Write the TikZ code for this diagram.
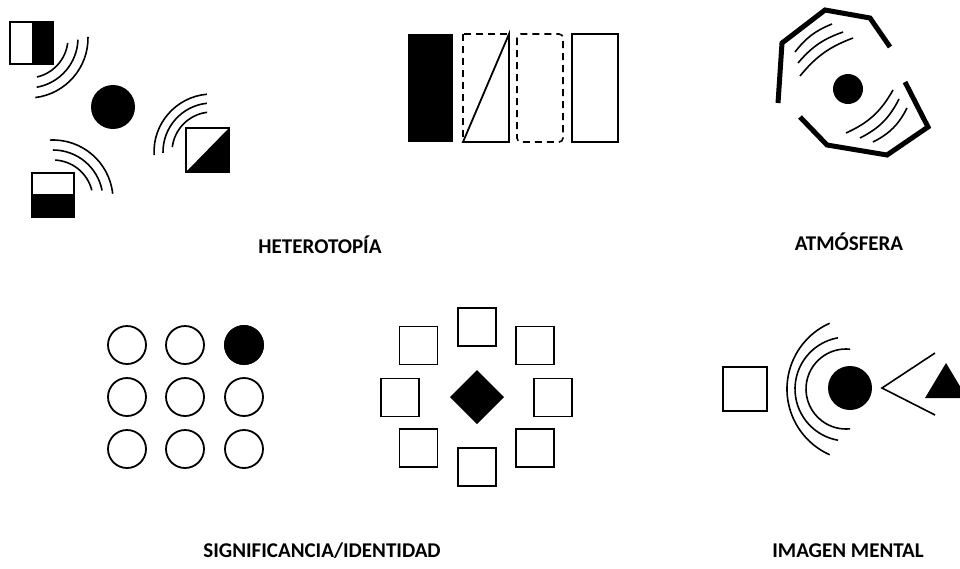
\documentclass[tikz,border=0pt]{standalone}
\usepackage{fontspec}
\setmainfont{Carlito}
\begin{document}
\begin{tikzpicture}[x=1pt,y=1pt,
  thin line/.style={line width=1.8pt, black},
  wave/.style={line width=1.6pt, black},
  thick poly/.style={line width=5pt, black, line join=miter},
  dashbox/.style={line width=1.6pt, dash pattern=on 7pt off 5pt},
  label/.style={font=\bfseries\fontsize{21}{25}\selectfont, anchor=base, inner sep=0pt}]
\useasboundingbox (0,0) rectangle (960,-568);

% ---------------- HETEROTOPIA (left group) ----------------
\fill (32,-22) rectangle (53,-64);
\draw[thin line] (10,-22) rectangle (53,-64);
\draw[wave] ([shift={(-77:40)}]28,-38) arc[start angle=-77,end angle=-7,radius=40];
\draw[wave] ([shift={(-80:50)}]28,-38) arc[start angle=-80,end angle=-2,radius=50];
\draw[wave] ([shift={(-83:60)}]28,-38) arc[start angle=-83,end angle=1,radius=60];

\fill (113,-107) circle[radius=22];

\fill (186,-172) -- (229,-172) -- (229,-128) -- cycle;
\draw[thin line] (186,-128) rectangle (229,-172);
\draw[wave] ([shift={(173:40)}]212,-152) arc[start angle=173,end angle=97,radius=40];
\draw[wave] ([shift={(181:49)}]212,-152) arc[start angle=181,end angle=96,radius=49];
\draw[wave] ([shift={(183:58)}]212,-152) arc[start angle=183,end angle=95,radius=58];

\fill (32,-194) rectangle (74,-217);
\draw[thin line] (32,-173) rectangle (74,-217);
\draw[wave] ([shift={(87:40)}]53,-200) arc[start angle=87,end angle=14,radius=40];
\draw[wave] ([shift={(90:50)}]53,-200) arc[start angle=90,end angle=11,radius=50];
\draw[wave] ([shift={(93:60)}]53,-200) arc[start angle=93,end angle=6,radius=60];

% ---------------- HETEROTOPIA (bars) ----------------
\fill (408,-34) rectangle (453,-142);
\draw[dashbox] (463,-34) rectangle (509,-142);
\draw[thin line] (463,-142) -- (509,-142) -- (509,-34) -- cycle;
\draw[dashbox, rounded corners=4pt] (517,-34) rectangle (563,-142);
\draw[thin line] (572,-34) rectangle (618,-142);

\node[label] (het) at (320,-253) {HETEROTOPÍA};

% ---------------- ATMOSFERA ----------------
\draw[thick poly] (778,-103) -- (782,-43) -- (825,-10) -- (870,-18) -- (890,-47);
\draw[thick poly] (800,-117) -- (827,-145) -- (887,-155) -- (928,-127) -- (905,-82);
\fill (848,-89) circle[radius=15];
\draw[wave] (800,-76) to[bend left=15] (853,-38);
\draw[wave] (798,-63) to[bend left=15] (843,-32);
\draw[wave] (795,-52) to[bend left=15] (832,-24);
\draw[wave] (846,-133) to[bend right=18] (893,-90);
\draw[wave] (860,-138) to[bend right=18] (899,-99);
\draw[wave] (873,-142) to[bend right=18] (907,-108);

\node[label] (atm) at (849,-250) {ATMÓSFERA};

% ---------------- SIGNIFICANCIA / IDENTIDAD ----------------
\foreach \x in {127,185,244}{
  \foreach \y in {-345,-397,-449}{
    \draw[thin line] (\x,\y) circle[radius=19];
  }
}
\fill (244,-345) circle[radius=19.9];

\foreach \cx/\cy in {477/327, 418.5/345.5, 535/345.5, 400/397.5, 553/397.5, 418.5/448, 535/448, 477/467}{
  \draw[thin line] (\cx-19,-\cy+19) rectangle (\cx+19,-\cy-19);
}
\fill (450,-397) -- (477,-370) -- (504,-397) -- (477,-424) -- cycle;

\node[label] (sig) at (322,-557) {SIGNIFICANCIA/IDENTIDAD};

% ---------------- IMAGEN MENTAL ----------------
\draw[thin line] (723,-367) rectangle (767,-411);
\draw[wave] ([shift={(84:40)}]846,-389) arc[start angle=84,end angle=276,radius=40];
\draw[wave] ([shift={(100:52)}]847,-389) arc[start angle=100,end angle=260,radius=52];
\draw[wave] ([shift={(114:72)}]859,-389) arc[start angle=114,end angle=246,radius=72];
\fill (850,-388) circle[radius=22];
\draw[wave] (935,-353) -- (882,-388) -- (935,-415);
\fill (946,-363) -- (925,-398) -- (967,-398) -- cycle;

\node[label] (img) at (848,-557) {IMAGEN MENTAL};
\end{tikzpicture}
\end{document}
